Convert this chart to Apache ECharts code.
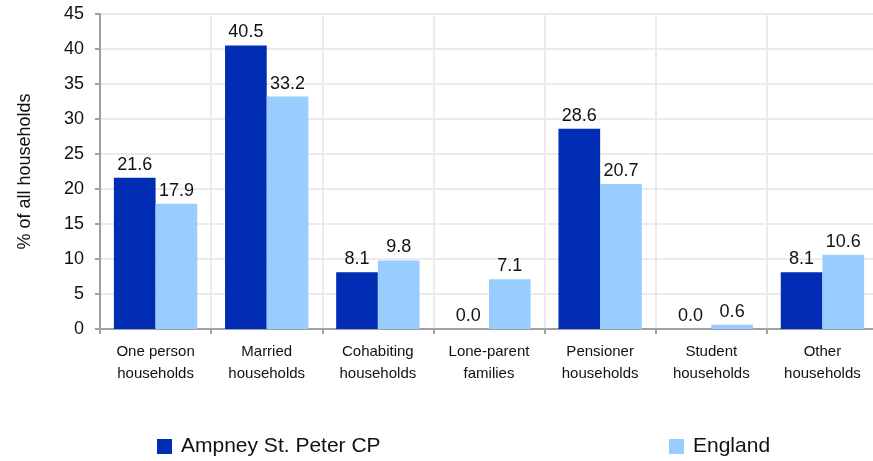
<!DOCTYPE html>
<html>
<head>
<meta charset="utf-8">
<style>
  html, body { margin: 0; padding: 0; background: #fff; }
  #main { width: 873px; height: 461px; }
</style>
<script src="https://cdn.jsdelivr.net/npm/echarts@6/dist/echarts.min.js"></script>
</head>
<body>
<div id="main"></div>
<script>
  var categories = ['One person\nhouseholds', 'Married\nhouseholds', 'Cohabiting\nhouseholds',
    'Lone-parent\nfamilies', 'Pensioner\nhouseholds', 'Student\nhouseholds', 'Other\nhouseholds']
  var ampneyValues = [21.6, 40.5, 8.1, 0.0, 28.6, 0.0, 8.1]
  var englandValues = [17.9, 33.2, 9.8, 7.1, 20.7, 0.6, 10.6]
  var seriesNames = ['Ampney St. Peter CP', 'England']

  var font = 'Liberation Sans, Arial, sans-serif'
  var chart = echarts.init(document.getElementById('main'))

  var labelStyle = {
    show: true,
    position: 'top',
    distance: 4,
    color: '#111',
    fontFamily: font,
    fontSize: 18,
    formatter: function (p) { return p.value.toFixed(1) }
  }

  var legendText = { fontFamily: font, fontSize: 21, color: '#111', padding: [0, 0, 0, 4] }

  chart.setOption({
    animation: false,
    color: ['#002db3', '#99ccff'],
    grid: {
      left: 100,
      width: 778,
      top: 14,
      bottom: 132,
      outerBoundsMode: 'none'
    },
    legend: [{
      data: [seriesNames[0]],
      left: 152,
      top: 431,
      itemWidth: 15,
      itemHeight: 15,
      icon: 'rect',
      textStyle: legendText
    }, {
      data: [seriesNames[1]],
      left: 664,
      top: 431,
      itemWidth: 15,
      itemHeight: 15,
      icon: 'rect',
      textStyle: legendText
    }],
    xAxis: {
      type: 'category',
      data: categories,
      axisLine: { lineStyle: { color: '#a0a0a0', width: 2 } },
      axisTick: { show: true, length: 5, lineStyle: { color: '#a0a0a0', width: 2 } },
      splitLine: { show: true, lineStyle: { color: '#ebebeb', width: 2 } },
      axisLabel: {
        color: '#111',
        fontFamily: font,
        fontSize: 15,
        lineHeight: 22,
        margin: 12
      }
    },
    yAxis: {
      type: 'value',
      min: 0,
      max: 45,
      interval: 5,
      name: '% of all households',
      nameLocation: 'middle',
      nameGap: 66,
      nameTextStyle: { color: '#111', fontFamily: font, fontSize: 18 },
      axisLine: { show: true, lineStyle: { color: '#a0a0a0', width: 2 } },
      axisTick: { show: true, length: 5, lineStyle: { color: '#a0a0a0', width: 2 } },
      splitLine: { lineStyle: { color: '#ebebeb', width: 2 } },
      axisLabel: { color: '#111', fontFamily: font, fontSize: 18, margin: 16 }
    },
    series: [{
      name: seriesNames[0],
      type: 'bar',
      data: ampneyValues,
      barGap: '0%',
      barCategoryGap: '25%',
      label: labelStyle
    }, {
      name: seriesNames[1],
      type: 'bar',
      data: englandValues,
      barGap: '0%',
      barCategoryGap: '25%',
      label: labelStyle
    }]
  })
</script>
</body>
</html>
